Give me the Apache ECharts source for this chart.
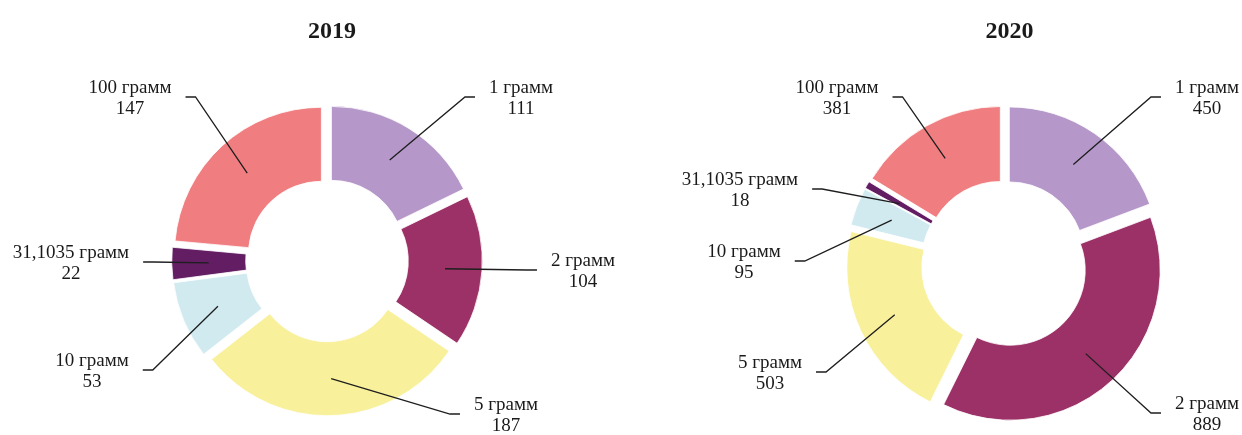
<!DOCTYPE html>
<html><head><meta charset="utf-8">
<script src="https://cdn.jsdelivr.net/npm/echarts@6/dist/echarts.min.js"></script>
<style>html,body{margin:0;padding:0;background:#fff}#c{width:1242px;height:435px}</style>
</head><body><div id="c"></div>
<script>
// ---- data ----
const categories = ['1 грамм', '2 грамм', '5 грамм', '10 грамм', '31,1035 грамм', '100 грамм'];
const years = ['2019', '2020'];
const values2019 = [111, 104, 187, 53, 22, 147];
const values2020 = [450, 889, 503, 95, 18, 381];

// ---- styles / layout ----
const sliceColors = ['#B598C9', '#9B3166', '#F8F09B', '#D0EAF0', '#621D63', '#F07E80'];
const labelPos2019 = [[521, 99], [583, 272], [506, 416], [92, 372], [71, 264], [130, 99]];
const labelPos2020 = [[1207, 99], [1207, 415], [770, 374], [744, 263], [740, 191], [837, 99]];
const FONT = '"Liberation Serif","Times New Roman",serif';

const charts = [
  { year: years[0], values: values2019, labels: labelPos2019, center: [327, 260.4], r0: 73, r: 147, offset: 8.3 },
  { year: years[1], values: values2020, labels: labelPos2020, center: [1004.5, 263.9], r0: 75, r: 150, offset: 8.5 }
];

function makeLayout(cfg, labelR) {
  return function (p) {
    const pos = cfg.labels[p.dataIndex];
    const lx = pos[0], ly = pos[1];
    const w = p.labelRect.width;
    let start = p.labelLinePoints && p.labelLinePoints[0];
    if (!start) {
      const total = cfg.values.reduce((a, b) => a + b, 0);
      let acc = 0;
      for (let i = 0; i < p.dataIndex; i++) acc += cfg.values[i];
      const mid = (acc + cfg.values[p.dataIndex] / 2) / total * Math.PI * 2;
      start = [cfg.center[0] + labelR * Math.sin(mid), cfg.center[1] - labelR * Math.cos(mid)];
    }
    const side = lx >= start[0] ? 1 : -1;
    const endX = lx - side * (w / 2 + 14);
    const lineY = ly - 2;
    const elbowX = endX - side * 10;
    return {
      x: lx, y: ly, align: 'center', verticalAlign: 'middle',
      labelLinePoints: [[start[0], start[1]], [elbowX, lineY], [endX, lineY]]
    };
  };
}

const series = [];
charts.forEach(cfg => {
  series.push({
    type: 'pie',
    z: 1,
    center: cfg.center,
    radius: [cfg.r0, cfg.r],
    startAngle: 90,
    clockwise: true,
    selectedMode: 'multiple',
    selectedOffset: cfg.offset,
    animation: false,
    label: { show: false },
    labelLine: { show: false },
    itemStyle: { borderColor: '#fff', borderWidth: 0.8 },
    select: { itemStyle: { borderColor: '#fff', borderWidth: 0.8 } },
    emphasis: { disabled: true },
    data: categories.map((n, i) => ({
      name: n, value: cfg.values[i], selected: true,
      itemStyle: { color: sliceColors[i] },
      select: { itemStyle: { color: sliceColors[i] } }
    }))
  });
  const labelR = (cfg.r0 + cfg.r) / 2 + cfg.offset;
  series.push({
    type: 'pie',
    z: 10,
    zlevel: 1,
    center: cfg.center,
    radius: [0, labelR],
    startAngle: 90,
    clockwise: true,
    silent: true,
    animation: false,
    avoidLabelOverlap: false,
    itemStyle: { color: 'rgba(0,0,0,0)', borderWidth: 0 },
    emphasis: { disabled: true },
    label: {
      show: true,
      position: 'outside',
      formatter: p => '{a|' + p.name + '}\n{a|' + p.value + '}',
      rich: { a: { fontFamily: FONT, fontSize: 19, lineHeight: 21, color: '#1a1a1a', align: 'center' } }
    },
    labelLine: { show: true, length: 10, length2: 10, smooth: false, lineStyle: { color: '#1e1e1e', width: 1.3 } },
    labelLayout: makeLayout(cfg, labelR),
    data: categories.map((n, i) => ({ name: n, value: cfg.values[i] }))
  });
});

const chart = echarts.init(document.getElementById('c'), null, { renderer: 'canvas' });
chart.setOption({
  backgroundColor: '#fff',
  animation: false,
  title: charts.map(cfg => ({
    text: cfg.year, left: cfg.center[0], top: 15, textAlign: 'center',
    textStyle: { fontFamily: FONT, fontWeight: 'bold', fontSize: 24, color: '#1a1a1a' }
  })),
  series: series
});
</script>
</body></html>
